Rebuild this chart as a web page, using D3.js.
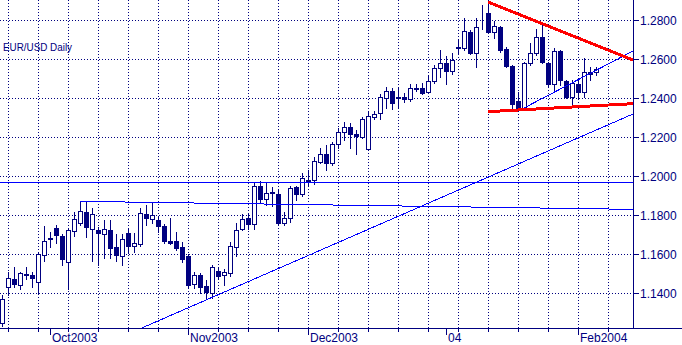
<!DOCTYPE html>
<html>
<head>
<meta charset="utf-8">
<script src="https://cdn.jsdelivr.net/npm/d3@7"></script>
<style>
  body { margin: 0; background: #fff; }
  text { font-family: Arial, "Liberation Sans", sans-serif; fill: #000080; }
</style>
</head>
<body>
<svg id="chart" width="682" height="345"></svg>
<script>
// daily candles, first one is Fri 19 Sep 2003, weekdays only
const opens = [1.1248,1.1432,1.1472,1.1439,1.1496,1.1491,1.1455,1.1593,1.1675,1.1732,
  1.1692,1.1559,1.1716,1.1761,1.1814,1.1730,1.1723,1.1703,1.1723,1.1636,
  1.1588,1.1708,1.1639,1.1650,1.1805,1.1778,1.1774,1.1744,1.1667,1.1667,
  1.1636,1.1590,1.1448,1.1492,1.1436,1.1402,1.1511,1.1491,1.1504,1.1637,
  1.1727,1.1783,1.1752,1.1949,1.1881,1.1911,1.1906,1.1761,1.1783,1.1942,
  1.1906,1.1979,1.1979,1.2073,1.2113,1.2068,1.2163,1.2224,1.2250,1.2214,
  1.2202,1.2137,1.2304,1.2322,1.2402,1.2436,1.2404,1.2407,1.2393,1.2448,
  1.2453,1.2432,1.2487,1.2552,1.2578,1.2540,1.2655,1.2655,1.2737,1.2632,
  1.2840,1.2834,1.2740,1.2763,1.2650,1.2564,1.2385,1.2347,1.2578,1.2629,
  1.2711,1.2581,1.2470,1.2641,1.2487,1.2407,1.2470,1.2429,1.2535,1.2532];
const highs = [1.1390,1.1509,1.1532,1.1509,1.1532,1.1508,1.1605,1.1744,1.1714,1.1750,
  1.1703,1.1732,1.1817,1.1873,1.1873,1.1834,1.1738,1.1774,1.1774,1.1701,
  1.1701,1.1735,1.1708,1.1837,1.1851,1.1865,1.1791,1.1754,1.1786,1.1714,
  1.1663,1.1600,1.1509,1.1503,1.1467,1.1544,1.1535,1.1523,1.1663,1.1761,
  1.1804,1.1809,1.1971,1.1976,1.1963,1.1942,1.1928,1.1814,1.1949,1.1949,
  1.2014,1.2031,1.2099,1.2145,1.2159,1.2176,1.2245,1.2277,1.2270,1.2236,
  1.2303,1.2327,1.2333,1.2419,1.2455,1.2450,1.2450,1.2424,1.2472,1.2470,
  1.2475,1.2511,1.2567,1.2646,1.2615,1.2629,1.2697,1.2809,1.2749,1.2809,
  1.2877,1.2894,1.2797,1.2769,1.2663,1.2569,1.2432,1.2586,1.2681,1.2752,
  1.2774,1.2586,1.2655,1.2646,1.2492,1.2492,1.2492,1.2604,1.2561,1.2561];
const lows = [1.1232,1.1390,1.1432,1.1421,1.1473,1.1432,1.1395,1.1566,1.1637,1.1658,
  1.1544,1.1421,1.1694,1.1749,1.1686,1.1566,1.1544,1.1578,1.1581,1.1564,
  1.1542,1.1604,1.1612,1.1641,1.1749,1.1757,1.1711,1.1655,1.1653,1.1619,
  1.1561,1.1424,1.1424,1.1402,1.1373,1.1373,1.1478,1.1441,1.1487,1.1591,
  1.1723,1.1727,1.1727,1.1868,1.1851,1.1848,1.1749,1.1749,1.1766,1.1877,
  1.1897,1.1949,1.1959,1.2065,1.2031,1.2056,1.2142,1.2185,1.2146,1.2111,
  1.2195,1.2134,1.2291,1.2291,1.2350,1.2344,1.2347,1.2381,1.2385,1.2436,
  1.2421,1.2431,1.2475,1.2509,1.2470,1.2521,1.2626,1.2646,1.2624,1.2559,
  1.2755,1.2737,1.2709,1.2636,1.2561,1.2349,1.2335,1.2338,1.2569,1.2621,
  1.2578,1.2455,1.2432,1.2467,1.2399,1.2355,1.2400,1.2407,1.2492,1.2518];
const closes = [1.1368,1.1475,1.1448,1.1501,1.1492,1.1477,1.1598,1.1665,1.1681,1.1696,
  1.1573,1.1723,1.1778,1.1821,1.1737,1.1805,1.1706,1.1727,1.1632,1.1596,
  1.1677,1.1643,1.1655,1.1809,1.1783,1.1798,1.1745,1.1668,1.1658,1.1632,
  1.1576,1.1443,1.1492,1.1432,1.1407,1.1532,1.1489,1.1506,1.1641,1.1723,
  1.1780,1.1752,1.1949,1.1881,1.1911,1.1916,1.1761,1.1783,1.1937,1.1906,
  1.1988,1.1969,1.2077,1.2113,1.2068,1.2164,1.2224,1.2250,1.2214,1.2207,
  1.2291,1.2308,1.2316,1.2404,1.2436,1.2373,1.2400,1.2393,1.2450,1.2451,
  1.2427,1.2487,1.2552,1.2578,1.2540,1.2595,1.2660,1.2744,1.2629,1.2763,
  1.2843,1.2740,1.2769,1.2646,1.2566,1.2369,1.2347,1.2578,1.2629,1.2711,
  1.2586,1.2470,1.2641,1.2492,1.2407,1.2475,1.2429,1.2532,1.2523,1.2547];

const priceTicks = [1.14, 1.16, 1.18, 1.20, 1.22, 1.24, 1.26, 1.28];

// trend lines drawn on the chart: [day index, price] -> [day index, price]
const blueLines = [
  [[-0.33, 1.1968], [105.17, 1.1968]],
  [[13, 1.1870], [105.17, 1.1829]],
  [[23.33, 1.1221], [105.17, 1.2318]],
  [[86.33, 1.2338], [105.17, 1.2641]]
];
const redLines = [
  [[81, 1.2892], [105.17, 1.2595]],
  [[81, 1.2330], [105.17, 1.2371]]
];

const chartTitle = "EUR/USD Daily";

var svg = d3.select("#chart");
var plotRight = 633, plotBottom = 328;
var navy = "#000080";

// trading days (weekdays) from the first candle, a bit past the last so the grid runs on
var days = d3.timeDay.range(new Date(2003, 8, 19), new Date(2004, 1, 14))
  .filter(d => d.getDay() > 0 && d.getDay() < 6);

var x = d3.scaleLinear().domain([0, 99]).range([2, 596]);
var y = d3.scaleLinear().domain([1.14, 1.28]).range([293, 20]);
var px = v => Math.round(v) + 0.5;

// //background grid
var grid = svg.append("g")
  .attr("stroke", navy)
  .attr("stroke-dasharray", "1,2")
  .attr("shape-rendering", "crispEdges");

grid.selectAll("line.h")
  .data(priceTicks)
  .join("line")
  .attr("class", "h")
  .attr("x1", 0).attr("x2", plotRight)
  .attr("y1", d => px(y(d))).attr("y2", d => px(y(d)));

var mondays = days.map((d, i) => i).filter(i => days[i].getDay() == 1 && x(i) < plotRight);
grid.selectAll("line.v")
  .data(mondays)
  .join("line")
  .attr("class", "v")
  .attr("x1", d => px(x(d))).attr("x2", d => px(x(d)))
  .attr("y1", 0).attr("y2", plotBottom);

// //candles
var candles = svg.append("g").attr("shape-rendering", "crispEdges");
var idx = d3.range(opens.length);

candles.selectAll("line.wick")
  .data(idx)
  .join("line")
  .attr("class", "wick")
  .attr("stroke", navy)
  .attr("x1", i => px(x(i))).attr("x2", i => px(x(i)))
  .attr("y1", i => Math.round(y(highs[i])))
  .attr("y2", i => Math.round(y(lows[i])) + 1);

candles.selectAll("rect")
  .data(idx)
  .join("rect")
  .attr("x", i => Math.round(x(i)) - 1.5)
  .attr("width", 4)
  .attr("y", i => Math.round(y(Math.max(opens[i], closes[i]))) + 0.5)
  .attr("height", i => Math.max(0, Math.round(y(Math.min(opens[i], closes[i]))) - Math.round(y(Math.max(opens[i], closes[i])))))
  .attr("fill", i => closes[i] < opens[i] ? navy : "#fff")
  .attr("stroke", navy);

// //trend lines
var lineGen = d3.line().x(d => x(d[0])).y(d => y(d[1]));
svg.append("g")
  .selectAll("path")
  .data(blueLines)
  .join("path")
  .attr("d", lineGen)
  .attr("fill", "none")
  .attr("stroke", "#0000ff")
  .attr("stroke-width", 1)
  .attr("shape-rendering", "crispEdges");

svg.append("g")
  .selectAll("path")
  .data(redLines)
  .join("path")
  .attr("d", lineGen)
  .attr("fill", "none")
  .attr("stroke", "#ff0000")
  .attr("stroke-width", 3)
  .attr("shape-rendering", "crispEdges");

// //axes frame
svg.append("line")
  .attr("x1", 0).attr("x2", 682)
  .attr("y1", plotBottom + 0.5).attr("y2", plotBottom + 0.5)
  .attr("stroke", navy).attr("shape-rendering", "crispEdges");
svg.append("line")
  .attr("x1", plotRight + 0.5).attr("x2", plotRight + 0.5)
  .attr("y1", 0).attr("y2", plotBottom)
  .attr("stroke", navy).attr("shape-rendering", "crispEdges");

// right price axis
var yAxis = svg.append("g");
yAxis.selectAll("line")
  .data(priceTicks)
  .join("line")
  .attr("x1", plotRight).attr("x2", plotRight + 6)
  .attr("y1", d => px(y(d))).attr("y2", d => px(y(d)))
  .attr("stroke", navy).attr("shape-rendering", "crispEdges");
yAxis.selectAll("text")
  .data(priceTicks)
  .join("text")
  .attr("x", plotRight + 7)
  .attr("y", d => Math.round(y(d)) + 5)
  .attr("font-size", "12px")
  .text(d3.format(".4f"));

// bottom date axis: week ticks and month labels
var xAxis = svg.append("g").attr("stroke", navy).attr("shape-rendering", "crispEdges");
xAxis.selectAll("line.w")
  .data(mondays)
  .join("line")
  .attr("class", "w")
  .attr("x1", d => px(x(d))).attr("x2", d => px(x(d)))
  .attr("y1", plotBottom).attr("y2", plotBottom + 4);

var monthStarts = days.map((d, i) => i)
  .filter(i => i > 0 && days[i].getMonth() != days[i - 1].getMonth() && x(i) < plotRight);
xAxis.selectAll("line.m")
  .data(monthStarts)
  .join("line")
  .attr("class", "m")
  .attr("x1", d => px(x(d))).attr("x2", d => px(x(d)))
  .attr("y1", plotBottom).attr("y2", plotBottom + 7);

var monthFmt = d => days[d].getMonth() == 0 ? d3.timeFormat("%y")(days[d]) : d3.timeFormat("%b%Y")(days[d]);
svg.append("g")
  .selectAll("text")
  .data(monthStarts)
  .join("text")
  .attr("x", d => Math.round(x(d)) + 2)
  .attr("y", 342)
  .attr("font-size", "12px")
  .text(monthFmt);

// title
svg.append("text")
  .attr("x", 3)
  .attr("y", 51)
  .attr("font-size", "11px")
  .attr("textLength", 69)
  .attr("lengthAdjust", "spacingAndGlyphs")
  .text(chartTitle);
</script>
</body>
</html>
